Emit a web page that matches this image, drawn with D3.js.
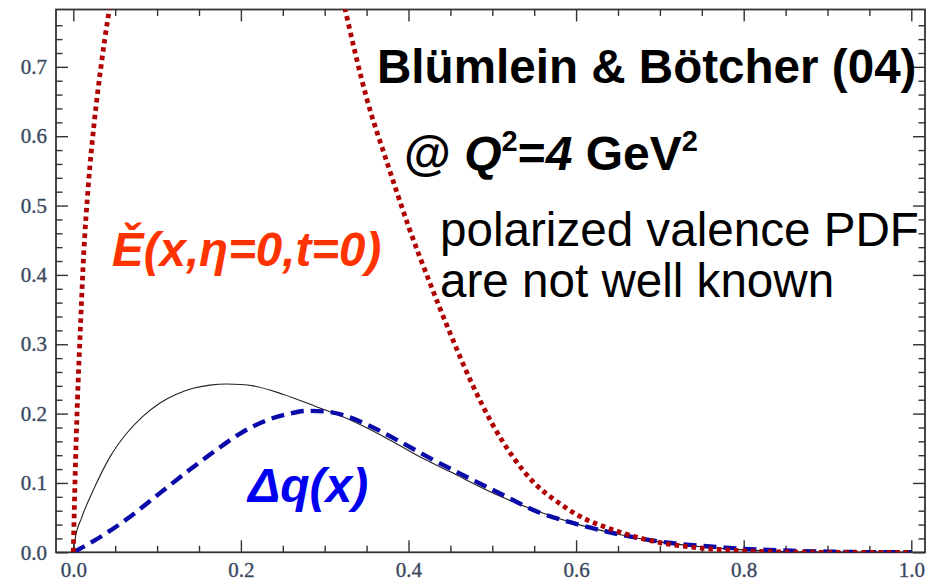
<!DOCTYPE html>
<html><head><meta charset="utf-8">
<script src="https://cdn.jsdelivr.net/npm/d3@7/dist/d3.min.js"></script>
<style>html,body{margin:0;padding:0;background:#fff;} svg{display:block;}</style>
</head><body>
<svg id="chart" width="943" height="583"></svg>
<script>
// ---- tick data ----
const xMajorTicks = [0, 0.2, 0.4, 0.6, 0.8, 1.0];
const xTickLabels = ["0.0", "0.2", "0.4", "0.6", "0.8", "1.0"];
const xMinorTicks = [0.05, 0.1, 0.15, 0.25, 0.3, 0.35, 0.45, 0.5, 0.55, 0.65, 0.7, 0.75, 0.85, 0.9, 0.95];
const yMajorTicks = [0, 0.1, 0.2, 0.3, 0.4, 0.5, 0.6, 0.7];
const yTickLabels = ["0.0", "0.1", "0.2", "0.3", "0.4", "0.5", "0.6", "0.7"];
const yMinorTicks = [0.02, 0.04, 0.06, 0.08, 0.12, 0.14, 0.16, 0.18, 0.22, 0.24, 0.26, 0.28,
  0.32, 0.34, 0.36, 0.38, 0.42, 0.44, 0.46, 0.48, 0.52, 0.54, 0.56, 0.58,
  0.62, 0.64, 0.66, 0.68, 0.72, 0.74, 0.76];

// ---- series data ----
// thin black curve
const blackX = [0, 0.002, 0.01, 0.024, 0.044, 0.064, 0.083, 0.103, 0.123, 0.143, 0.163, 0.183, 0.2, 0.215,
  0.25, 0.29, 0.33, 0.37, 0.41, 0.45, 0.5, 0.55, 0.6, 0.65, 0.7, 0.75, 0.8, 0.85, 0.9, 0.95, 1.0];
const blackY = [0, 0.018, 0.05, 0.09, 0.138, 0.172, 0.196, 0.215, 0.228, 0.2365, 0.241, 0.2427, 0.242, 0.24,
  0.228, 0.21, 0.191, 0.167, 0.14, 0.116, 0.086, 0.061, 0.041, 0.026, 0.015, 0.008, 0.0035, 0.0012, 0.0003, 0.0, 0.0];
// Δq(x), blue dashed
const blueX = [0, 0.024, 0.064, 0.103, 0.14, 0.17, 0.2, 0.23, 0.255, 0.28, 0.305, 0.33, 0.35, 0.39,
  0.43, 0.469, 0.505, 0.557, 0.597, 0.636, 0.676, 0.716, 0.776, 0.8, 0.85, 0.9, 0.95, 1.0];
const blueY = [0, 0.016, 0.048, 0.085, 0.12, 0.147, 0.172, 0.19, 0.199, 0.204, 0.2025, 0.1945, 0.1845, 0.1595,
  0.133, 0.109, 0.0874, 0.057, 0.042, 0.03, 0.02, 0.013, 0.007, 0.005, 0.0025, 0.001, 0.0002, 0.0];
// Ě(x,η=0,t=0), red dotted (runs above the frame between ~0.04 and ~0.32)
const redX = [0, 0.002, 0.005, 0.008, 0.012, 0.018, 0.025, 0.033, 0.042, 0.06, 0.1, 0.15, 0.2, 0.25, 0.29,
  0.324, 0.35, 0.375, 0.4, 0.425, 0.45, 0.475, 0.5, 0.525, 0.55, 0.575, 0.6, 0.65, 0.7, 0.75, 0.8, 0.85, 0.9, 1.0];
const redY = [0, 0.1, 0.22, 0.31, 0.42, 0.53, 0.62, 0.7, 0.775, 0.88, 1.05, 1.18, 1.22, 1.15, 0.98,
  0.785, 0.655, 0.56, 0.47, 0.39, 0.315, 0.245, 0.185, 0.137, 0.1, 0.075, 0.055, 0.03, 0.014, 0.006, 0.002, 0.0005, 0.0, 0.0];

const W = 943, H = 583;
const pLeft = 56, pRight = 925, pTop = 9.5, pBottom = 552.3;
const x = d3.scaleLinear().domain([-0.02064, 1.01635]).range([pLeft, pRight]);
const y = d3.scaleLinear().domain([0, 0.7827]).range([pBottom, pTop]);

const svg = d3.select("#chart");
svg.append("defs").append("clipPath").attr("id", "clip")
  .append("rect").attr("x", pLeft).attr("y", pTop).attr("width", pRight - pLeft).attr("height", pBottom - pTop);

const labelFont = "'Liberation Serif', 'Times New Roman', serif";
const labelColor = "#3a4860";
const axisColor = "#333";
const MAJ = 12, MIN = 6.5;

function styleAxis(g) {
  g.select(".domain").remove();
  g.selectAll(".tick line").attr("stroke", axisColor).attr("stroke-width", 1.4);
  g.selectAll(".tick text").attr("fill", labelColor).attr("font-family", labelFont).attr("font-size", 21)
    .attr("stroke", labelColor).attr("stroke-width", 0.35);
}

// bottom
svg.append("g").attr("transform", `translate(0,${pBottom})`)
  .call(d3.axisBottom(x).tickValues(xMajorTicks).tickSize(-MAJ).tickPadding(10).tickFormat((d, i) => xTickLabels[i]))
  .call(styleAxis);
svg.append("g").attr("transform", `translate(0,${pBottom})`)
  .call(d3.axisBottom(x).tickValues(xMinorTicks).tickSize(-MIN).tickFormat(""))
  .call(styleAxis);
// top
svg.append("g").attr("transform", `translate(0,${pTop})`)
  .call(d3.axisTop(x).tickValues(xMajorTicks).tickSize(-MAJ).tickFormat(""))
  .call(styleAxis);
svg.append("g").attr("transform", `translate(0,${pTop})`)
  .call(d3.axisTop(x).tickValues(xMinorTicks).tickSize(-MIN).tickFormat(""))
  .call(styleAxis);
// left
svg.append("g").attr("transform", `translate(${pLeft},0)`)
  .call(d3.axisLeft(y).tickValues(yMajorTicks).tickSize(-MAJ).tickPadding(9).tickFormat((d, i) => yTickLabels[i]))
  .call(styleAxis);
svg.append("g").attr("transform", `translate(${pLeft},0)`)
  .call(d3.axisLeft(y).tickValues(yMinorTicks).tickSize(-MIN).tickFormat(""))
  .call(styleAxis);
// right
svg.append("g").attr("transform", `translate(${pRight},0)`)
  .call(d3.axisRight(y).tickValues(yMajorTicks).tickSize(-MAJ).tickFormat(""))
  .call(styleAxis);
svg.append("g").attr("transform", `translate(${pRight},0)`)
  .call(d3.axisRight(y).tickValues(yMinorTicks).tickSize(-MIN).tickFormat(""))
  .call(styleAxis);

// frame
svg.append("rect").attr("x", pLeft).attr("y", pTop).attr("width", pRight - pLeft).attr("height", pBottom - pTop)
  .attr("fill", "none").attr("stroke", axisColor).attr("stroke-width", 1.8);

// curves
const line = d3.line().x(d => x(d[0])).y(d => y(d[1])).curve(d3.curveMonotoneX);
const plot = svg.append("g").attr("clip-path", "url(#clip)");
plot.append("path").datum(blackX.map((v, i) => [v, blackY[i]]))
  .attr("d", line).attr("fill", "none").attr("stroke", "#222").attr("stroke-width", 1.1);
plot.append("path").datum(blueX.map((v, i) => [v, blueY[i]]))
  .attr("d", line).attr("fill", "none").attr("stroke", "#0a0aa8").attr("stroke-width", 4.4)
  .attr("stroke-dasharray", "13,7");
plot.append("path").datum(redX.map((v, i) => [v, redY[i]]))
  .attr("d", line).attr("fill", "none").attr("stroke", "#b00000").attr("stroke-width", 4.8)
  .attr("stroke-dasharray", "4.5,4");

// annotations
const sans = "'Liberation Sans', Arial, sans-serif";
svg.append("text").attr("x", 377).attr("y", 83).attr("font-family", sans).attr("font-weight", "bold")
  .attr("font-size", 47.6).attr("fill", "#000").text("Blümlein & Bötcher (04)");

const q = svg.append("text").attr("x", 404).attr("y", 170).attr("font-family", sans).attr("font-weight", "bold")
  .attr("font-size", 48).attr("fill", "#000");
q.append("tspan").text("@ ");
q.append("tspan").attr("font-style", "italic").text("Q");
q.append("tspan").attr("font-size", 29).attr("dy", -19).text("2");
q.append("tspan").attr("dy", 19).text("=");
q.append("tspan").attr("font-style", "italic").text("4");
q.append("tspan").text(" GeV");
q.append("tspan").attr("font-size", 29).attr("dy", -19).text("2");

svg.append("text").attr("x", 440).attr("y", 246).attr("font-family", sans)
  .attr("font-size", 47.6).attr("fill", "#000").text("polarized valence PDF");
svg.append("text").attr("x", 440).attr("y", 297).attr("font-family", sans)
  .attr("font-size", 47.6).attr("fill", "#000").text("are not well known");

svg.append("text").attr("x", 112).attr("y", 266).attr("font-family", sans).attr("font-weight", "bold")
  .attr("font-style", "italic").attr("font-size", 47.5).attr("fill", "#ff3300").text("Ě(x,η=0,t=0)");
svg.append("text").attr("x", 248).attr("y", 502).attr("font-family", sans).attr("font-weight", "bold")
  .attr("font-style", "italic").attr("font-size", 48).attr("fill", "#0000f0").text("Δq(x)");
</script>
</body></html>
